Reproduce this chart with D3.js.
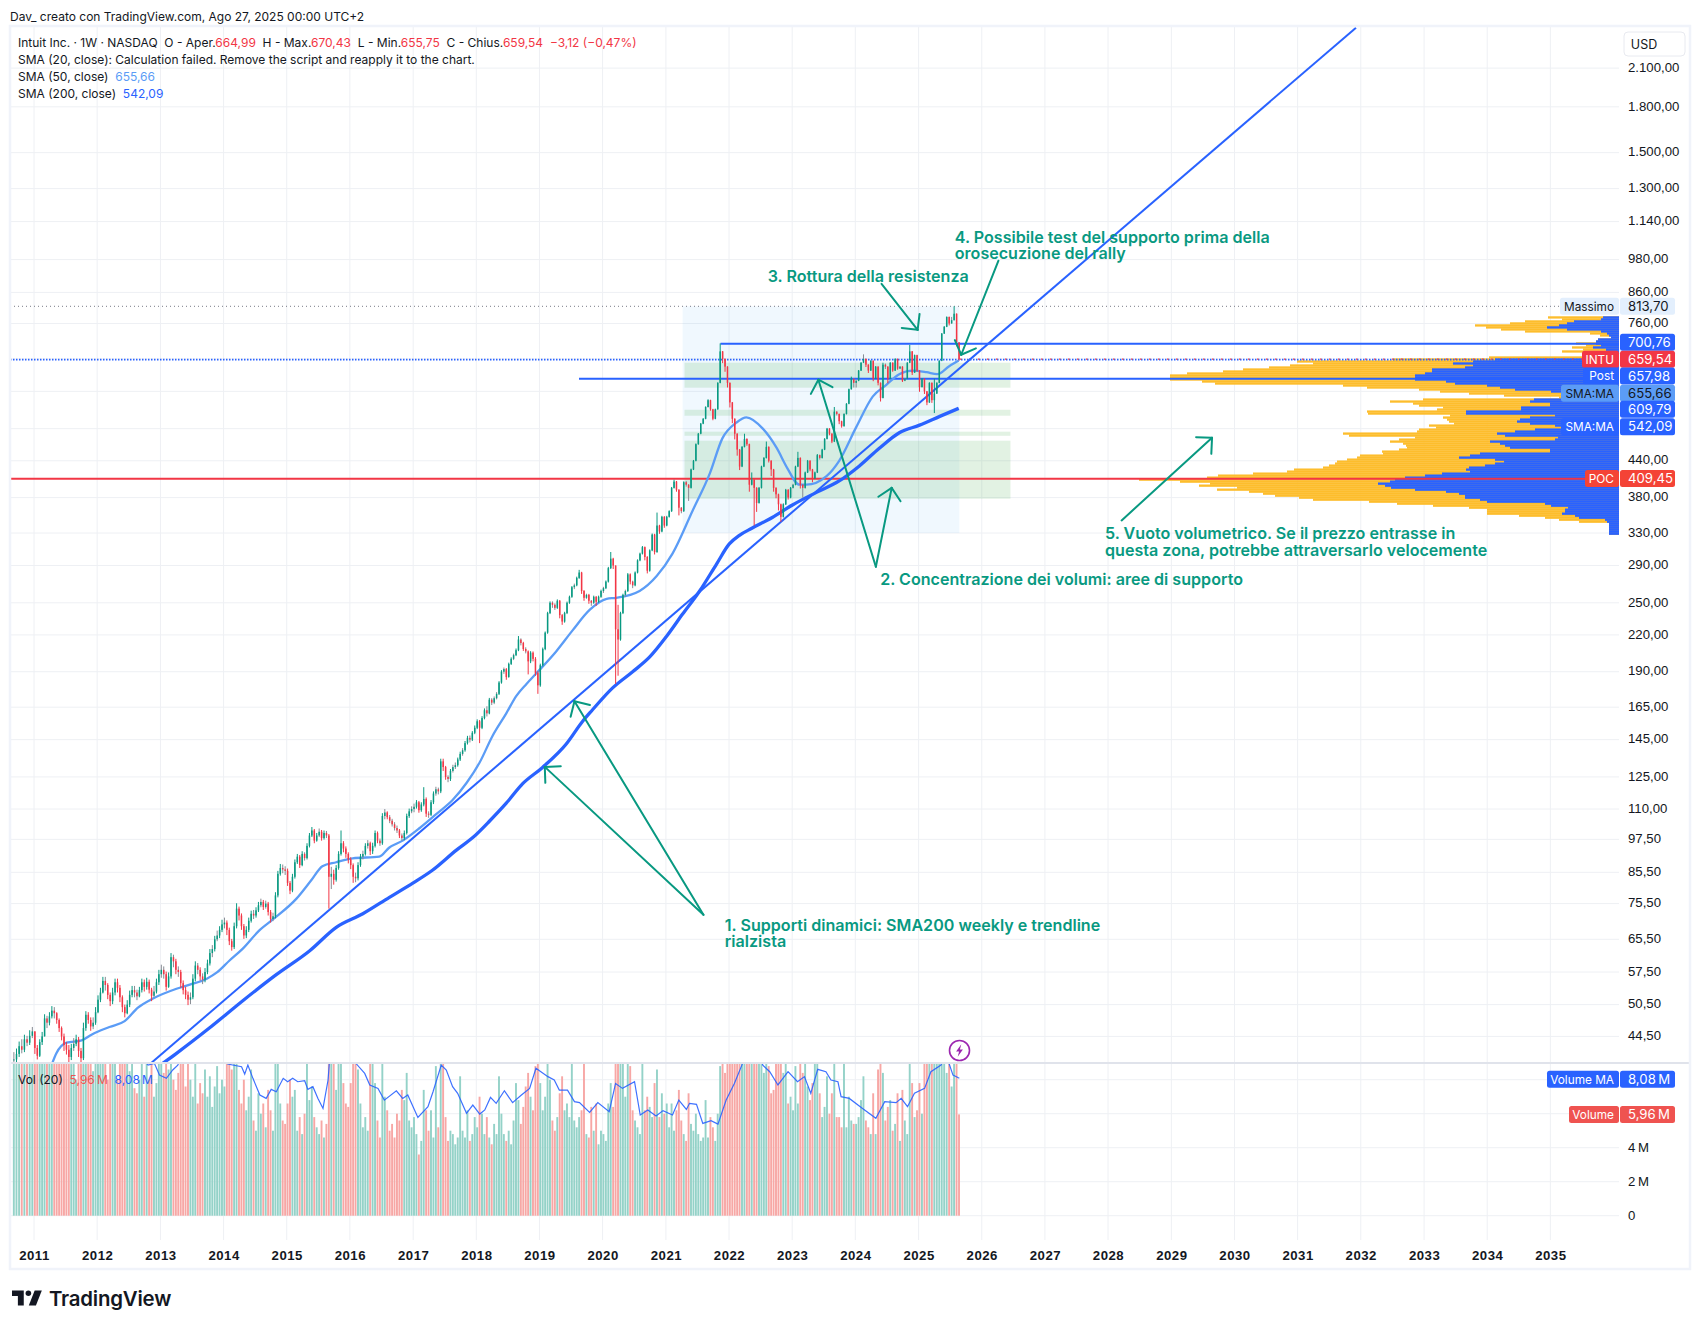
<!DOCTYPE html>
<html lang="it">
<head>
<meta charset="utf-8">
<title>Intuit Inc. 1W</title>
<script src="https://cdn.jsdelivr.net/npm/d3@7"></script>
<style>
  html, body { margin: 0; padding: 0; background: #fff; }
  svg { display: block; font-family: Inter, "Noto Sans", sans-serif; }
  text { fill: #131722; }
  .tick text { font-size: 13.2px; fill: #131722; }
  .time .tick text { font-weight: 600; letter-spacing: .5px; }
  .domain { display: none; }
</style>
</head>
<body>
<svg id="chart" width="1701" height="1329"></svg>
<script>
// Two-week candles per calendar year: [close, high, low, volume in millions]
const y2010 = [[40.6,41.8,39.2,12],[41.5,42.4,40.1,14],[42.8,43.6,41,11],[42.2,44,41.6,13],[44,44.8,41.8,15],[43.4,44.6,42.8,10],[44.6,45.6,43,12],[45.4,46.2,44.2,13]];
const y2011 = [[42.5,45,41.5,13],[41.2,43,40.6,15],[43.5,44,41,12],[44.5,45.3,43,11],[47.8,48.6,44.5,16],[47,48.3,46,9.5],[48.2,49,46.5,12],[49.3,50.2,47.8,10],[48.8,50,47.8,9.4],[47.5,49,46.8,11],[46,47.8,45.3,13],[44.5,46.3,43.8,14],[43,45,42,16],[42.2,43.5,41.4,12],[41,43,39.8,18],[42.5,43.2,40.5,10],[43.2,44.2,42,9],[44,44.8,42.8,8],[42,44.4,41,10.5],[40.8,42.5,39.6,15],[46,47,40.5,17],[48.5,49.2,45.5,12],[47.5,49,46.8,10],[46.3,48,45.5,9],[47,48,45.8,8.5],[49,50,46.6,11]];
const y2012 = [[51.5,52.4,48.8,12],[53,54,51,11],[55.5,56.4,52.8,13],[54.6,56.4,53.4,9.5],[52.5,55,51.6,8],[51.2,53,50.2,10],[53,54,50.6,9],[55.2,56,52.4,12],[54,56,53,8],[52,54.6,51,10],[50,52.4,49,14],[48.8,50.5,48,12],[50.5,51.4,48.6,9],[52.5,53.4,50,8.5],[53.5,54.4,52,9],[53,54.4,52,7.5],[52.2,53.6,51.4,7.2],[53.5,54.2,52,8],[55.2,56,53,9.6],[54.2,55.8,53.2,7],[55.3,56.2,53.6,11],[53.6,55.8,52.8,8],[52.3,54,51.2,9.4],[53.2,54.4,52,7],[55.2,56,52.8,7.8],[57,58,54.6,10]];
const y2013 = [[58,59.2,56.2,9.5],[57,58.8,56,8.4],[54.2,57.6,53.4,9.2],[56.5,57.4,54,8.6],[61,62,56,13],[60,61.6,58.6,8],[58,60.6,57,7.4],[57.5,58.8,56.4,8.4],[55,58,54,10.5],[53.5,55.6,52.6,9],[52.5,54.2,51.6,7.6],[51.5,53.2,50.4,11],[52,53,50.6,8],[56,57,51.6,7],[59,60,55.4,10],[58,59.6,57,6.6],[56.5,58.6,55.6,7.8],[55.8,57.2,54.8,7.2],[57.5,58.4,55.2,8.6],[59.5,60.4,57,7],[62,63,59,8.2],[63,64,61,6.4],[65.5,66.4,62.4,7.6],[66.5,67.8,65,8.8],[68,69,65.8,7.2],[69.5,70.8,67.4,8]];
const y2014 = [[70,71.4,68.4,7.6],[68,70.6,66.6,10.5],[65,68.6,64,9.4],[63.5,65.6,62.6,8.6],[69,70,63,11],[74,75.6,68.4,12],[72,74.6,70.6,7.4],[69,72.6,68,6.6],[66.5,69.6,65.6,8],[68,69,65.8,6.2],[70.5,71.4,67.4,7],[72.5,73.4,70,8.6],[72,73.6,71,5.6],[73.5,74.4,71.4,5],[75,76,73,7.2],[76,77,74.4,6],[74.5,76.6,73.6,6.6],[75.5,76.4,74,5.2],[73,76,72,7.4],[71,73.6,70,6.2],[71.8,72.8,70.4,5],[78,79,71.2,10.5],[85,86,77.4,9],[87,88.4,84.4,6.6],[86.5,88.2,85.2,5.6],[86,87.6,84.6,5.4]];
const y2015 = [[82,86.8,81,6.6],[79.5,82.6,78.4,8],[84,85,79,7],[89,90,83.4,7.4],[91,92,88.4,5],[88,91.6,87,5.8],[92,93,87.6,4.8],[90.5,92.6,89.6,6],[95,96,90,11],[99,100,94.4,6.8],[101,102.4,98.4,7.6],[97,101.6,96,5.8],[99,100,96.6,5.2],[100.5,101.8,98.4,4.8],[98,101.2,97,5.6],[100,101,97.4,4.6],[99,100.8,98,5.4],[84,99.6,74,13],[85,87.4,80,11],[83,86.4,81.4,9],[87,88,82.4,7.4],[92,93,86.4,10.5],[96,101,91.4,11],[94,96.8,92.6,7.8],[92,94.8,90.6,6.6],[90,92.6,88.6,6.4]];
const y2016 = [[88,90.8,86.6,7.8],[84,88.6,82,10],[83.5,85.4,82.2,9.6],[88,89,82.8,8.6],[91,92,87.4,6.6],[92,93.2,90,5.2],[95,96,91.4,5.8],[96,97.2,94,5],[93,96.6,91.6,11],[95,96.2,92,12],[100,101,94.4,7.8],[97,100.6,96,5.6],[96,97.8,95,4.6],[107,108.2,95.4,11],[108.5,110,105.6,7],[106.5,109,105.6,6.2],[105,107.4,104,5],[103.5,105.8,102.6,5.4],[102,104.4,101,4.6],[101,103,100,6],[99,101.6,98,5.6],[98,99.8,97,7.4],[100,101,97.2,6.8],[107,108,99.4,8.4],[109,110.2,106.2,5.6],[110,111.2,108.2,5.2]];
const y2017 = [[111,112.4,108.6,5.8],[113,114,110.2,4.8],[109.5,113.6,108.4,3.6],[112,113,108.8,4.4],[114.5,120,111.2,7.4],[108,115.2,106.6,6.2],[107.5,109,106.2,5],[113,114,107,6.2],[117,118,112.2,4.6],[119,120.2,116,8.8],[118,119.8,116.6,5.2],[133,134.4,117.2,13],[130,134.4,128,11],[125,130.6,123.6,5.8],[124,125.8,122.4,4.4],[128,129,123,5],[130,131.2,127.2,4.8],[131,132.4,129,4.2],[134,135,130.2,4.6],[137,138.2,133.2,8.2],[139,140.2,136,5],[143,144.2,138.2,4.6],[146,147.2,142.2,6.2],[145,147.4,143.4,4.4],[149,150,144.2,4.8],[152,153.4,148.2,5.8]];
const y2018 = [[156,157.2,151.2,5.2],[152,156.8,143,7],[158,159.2,151.2,6],[163,164.2,157.2,4.8],[161,165.6,159,5.8],[170,171.2,160.4,4.6],[168,171,166.4,4.2],[171,172.2,167,5.4],[174,175.2,170.2,4.8],[182,183,173.2,8.2],[190,191.2,181.2,6],[192,193.2,188.4,4.8],[186,192.8,184,4.4],[196,197,185.6,5],[200,201.2,195.2,4.2],[203,204.2,199,5.6],[207,208.4,202.2,7.8],[216,219,206.2,6.8],[213,217,211,5.4],[208,214,206.4,6.4],[206,209.4,204.4,7.6],[198,206.8,188,8.4],[205,206.2,196.6,7],[200,206,198,6.2],[189,201.4,187,8.8],[180,190.4,174,9.4]];
const y2019 = [[195,196.2,179,7.8],[208,209.2,194,6.2],[222,223,207,7],[240,241.2,221,11],[250,251.4,239,8],[248,251.4,245,5.6],[245,249.4,243,5],[252,253.4,244,5.8],[238,252.8,235,7.2],[232,239,229,8.2],[240,241.2,231,6.2],[250,251.2,239,6.6],[256,257.2,249,5.8],[266,267.2,255,11],[268,269.8,264,5.6],[276,277.4,267,5.2],[282,285,275,5.8],[262,282.8,259,6.2],[255,263,252,10.5],[258,259.2,254,4.8],[252,259,249,4.6],[250,252.8,247,6.4],[256,257.2,249,5],[251,256.8,247,6.6],[256,257.2,250,4.2],[262,263.4,255,5]];
const y2020 = [[265,266.4,260,4.8],[272,273.2,264,4.4],[287,288.4,271,6.6],[298,306,286,7.8],[290,299,286,6.4],[225,290,181,17],[216,248,187,15],[240,241.2,215,12],[258,259.2,239,9.2],[262,263.4,256,7],[280,281.4,261,10.5],[272,281,269,8.8],[268,273,265,6.2],[282,283.2,267,5.6],[296,297.2,281,5.2],[304,305.2,295,4.8],[312,313.4,303,9],[300,312.8,296,6.2],[284,301,281,7],[308,309.2,283,6.4],[328,329.4,307,5.8],[306,329,303,7.8],[340,358,305,8.6],[332,341,329,5.8],[352,353.4,331,7.2],[340,353,337,6]];
const y2021 = [[352,353.4,339,6.6],[360,361.2,351,5.2],[395,396.4,359,6.6],[405,408,394,5],[392,406,389,6.2],[365,393,354,7.4],[360,366,357,5.6],[404,405.4,359,4.8],[400,406,397,4.4],[395,401,375,7.2],[425,426.4,394,5.4],[440,441.4,424,5],[470,471.4,439,6],[490,491.4,469,4.8],[510,511.4,489,4.4],[520,521.4,509,4.6],[545,546.4,519,6.8],[560,562,544,4.6],[540,561,537,5.8],[520,541,517,5.2],[540,541.4,519,4.4],[600,601.4,539,6],[680,702,599,8.8],[660,681,649,9.4],[640,661,627,8.4],[600,641,589,9.2]];
const y2022 = [[555,601,544,12],[520,556,511,13],[490,521,479,16],[460,491,449,15],[430,461,424,17],[465,466.4,429,11],[480,490,464,11],[470,481,467,10.5],[400,471,389,16],[408,420,399,14],[395,409,340,13],[372,396,359,12],[395,396.4,371,11],[430,431.4,394,9.4],[445,446.4,429,8.4],[465,475,444,10.5],[440,466,437,8.8],[425,441,414,7.2],[395,426,389,7.4],[385,396,379,9],[370,386,361,11],[352,371,345,10],[370,371.4,351,8.4],[392,393.4,369,9.2],[380,393,377,6.6],[395,396.4,379,7]];
const y2023 = [[400,401.4,394,6.2],[430,431.4,399,8.8],[445,456,429,6.6],[400,446,394,9.2],[395,401,380,8.4],[420,421.4,394,10],[440,441.4,419,7.6],[425,441,422,6.8],[410,426,404,7.8],[420,421.4,409,9.4],[450,452,419,11],[445,451,442,7.2],[460,461.4,444,5.8],[480,481.4,459,6.4],[500,501.4,479,8.2],[490,501,487,6],[475,491,472,7.2],[535,545,474,9.4],[530,536,527,5.8],[515,531,509,5.8],[505,516,502,5.2],[530,531.4,504,9.2],[552,553.4,529,5.2],[585,586.4,551,7],[610,615,584,5.6],[600,611,589,5.4]];
const y2024 = [[605,606.4,589,5.4],[630,631.4,604,5.8],[650,651.4,629,6.8],[660,672,649,8.2],[645,661,639,5.6],[630,646,624,5.2],[655,656.4,629,4.8],[610,656,604,7.2],[640,641.4,609,4.8],[600,641,594,8.6],[565,601,557,11],[645,650,564,8.4],[640,648,634,5.6],[610,641,599,6.4],[650,651.4,609,6.8],[630,651,627,5],[660,661.4,629,5.4],[635,661,632,7.2],[640,641.4,634,4.4],[605,641,602,7.4],[610,611.4,604,5.6],[650,651.4,609,4.8],[680,698,649,9.4],[625,681,619,7.8],[670,671.4,624,5.8],[630,671,627,6.2]];
const y2025 = [[590,631,579,7.8],[610,611.4,589,6],[580,611,574,9],[555,581,549,11],[600,601.4,554,12],[560,601,554,9.4],[575,610,532,13],[600,601.4,574,10],[655,656.4,599,11],[730,731.4,654,13],[750,752,729,9.8],[780,781.4,749,8.4],[760,781,754,11],[770,780,759,7.6],[790,813.7,769,12],[705,791,694,13],[659.54,705,655.75,5.96]];

// Moving averages and volume average as [decimal year, value]
const sma50 = [[2011.28,39.6],[2011.36,41.6],[2011.52,43.4],[2011.76,43.8],[2011.93,44.9],[2012.2,46.2],[2012.44,47.3],[2012.65,49.9],[2012.88,51.7],[2013.26,53.8],[2013.47,54.7],[2013.74,56],[2013.9,57.4],[2014.1,60.2],[2014.31,63.1],[2014.58,68],[2014.78,70.8],[2015.16,77],[2015.4,83],[2015.57,87.6],[2015.79,89],[2016.05,90.4],[2016.47,91],[2016.63,94.4],[2016.84,97],[2017.11,102],[2017.38,108],[2017.63,114],[2017.85,122],[2018.06,132.5],[2018.26,147],[2018.48,161],[2018.64,172.6],[2018.8,181],[2018.96,189],[2019.27,206],[2019.53,224],[2019.8,243],[2020.07,254],[2020.22,255],[2020.59,262],[2020.86,278],[2021.11,304],[2021.43,361],[2021.7,418],[2021.9,481],[2022.12,512],[2022.28,523],[2022.54,500],[2022.76,463],[2022.93,427],[2023.12,400],[2023.23,400],[2023.55,414],[2023.75,440],[2024.02,503],[2024.28,568],[2024.5,596],[2024.7,621],[2024.91,630],[2025.13,626],[2025.3,621],[2025.49,641],[2025.64,655.66]];
const sma200 = [[2012.99,39.6],[2013.26,41.6],[2013.78,46],[2014.31,51.3],[2014.84,56.9],[2015.37,62.6],[2015.79,68.7],[2016.21,72.5],[2016.63,77.4],[2017,81.9],[2017.31,86.2],[2017.69,93.4],[2017.95,98.2],[2018.22,105],[2018.48,112.6],[2018.74,121.7],[2019.05,129.7],[2019.43,142.5],[2019.69,156],[2019.84,163],[2020.16,178],[2020.48,190],[2020.75,201.5],[2021.02,219],[2021.27,239],[2021.54,262],[2021.81,292],[2022.01,316],[2022.17,327],[2022.36,336],[2022.69,351],[2023.01,369],[2023.39,388],[2023.75,406],[2024.07,431],[2024.38,462],[2024.7,492],[2025.02,507],[2025.34,525],[2025.64,542.09]];
const volMa = [[2012.7,9.4],[2012.81,8.86],[2012.91,8.96],[2012.99,8.27],[2013.1,8.08],[2013.2,8.57],[2013.28,8.86],[2013.34,9.35],[2014,9.5],[2014.07,8.92],[2014.29,8.76],[2014.34,8.33],[2014.39,8.86],[2014.47,8.08],[2014.58,7.1],[2014.68,6.9],[2014.76,7.43],[2014.84,7.29],[2014.95,8.08],[2015.02,7.88],[2015.1,8.08],[2015.18,7.88],[2015.29,7.94],[2015.34,7.43],[2015.42,7.59],[2015.5,6.9],[2015.58,6.31],[2015.66,7.98],[2015.68,8.96],[2015.71,9.55],[2016.05,9.55],[2016.11,8.92],[2016.24,8.37],[2016.32,7.69],[2016.45,7.49],[2016.55,6.8],[2016.74,7.35],[2016.84,6.9],[2016.92,7.1],[2017.08,5.78],[2017.24,6.41],[2017.32,7.29],[2017.45,8.86],[2017.53,8.57],[2017.63,7.59],[2017.71,7.2],[2017.85,6.02],[2017.95,6.51],[2018.06,5.98],[2018.14,6.22],[2018.23,6.96],[2018.32,6.61],[2018.45,7.35],[2018.58,6.65],[2018.72,7.1],[2018.85,7.49],[2018.95,8.67],[2019.14,8.18],[2019.24,7.98],[2019.32,7.39],[2019.45,7.39],[2019.56,6.71],[2019.64,6.65],[2019.8,6.08],[2019.93,6.65],[2020.11,6.12],[2020.21,7.78],[2020.32,7.49],[2020.51,7.88],[2020.6,5.92],[2020.72,6.22],[2020.85,5.86],[2020.96,6.18],[2021.11,5.92],[2021.21,6.8],[2021.33,6.25],[2021.38,6.61],[2021.49,6.55],[2021.59,5.43],[2021.72,5.59],[2021.83,5.39],[2021.96,6.8],[2022.09,7.78],[2022.22,8.96],[2022.25,9.35],[2022.51,9.35],[2022.54,8.86],[2022.65,8.47],[2022.78,7.69],[2022.94,8.47],[2023.09,7.88],[2023.2,8.18],[2023.3,7.2],[2023.41,8.61],[2023.54,8.47],[2023.62,7.98],[2023.73,7.88],[2023.78,7],[2023.91,6.9],[2024.12,6.31],[2024.33,5.73],[2024.47,6.71],[2024.65,6.65],[2024.73,6.9],[2024.83,6.41],[2024.94,7.2],[2025.1,7.49],[2025.2,8.47],[2025.36,8.86],[2025.4,9.25],[2025.46,9.25],[2025.55,8.27],[2025.65,8.08]];

// Volume profile rows, top to bottom: whole row and the up-volume part
const vpTotal = [71,57,94,109,144,133,118,94,29,19,8,21,23,43,33,47,36,57,26,14,130,226,322,306,329,350,376,396,432,449,449,449,417,404,276,252,200,179,150,115,60,196,229,206,200,176,182,252,251,169,176,172,170,165,190,183,200,202,276,270,204,220,229,216,213,212,220,237,236,259,262,272,282,284,290,296,325,332,366,401,412,480,439,409,420,382,402,370,356,344,320,306,250,222,186,150,132,132,132,100,74,60,40,10,10,10,10,10,10];
const vpUp = [16,18,45,52,60,72,52,18,12,10,8,21,23,23,18,26,13,13,10,10,32,124,146,166,146,154,187,187,194,204,204,204,173,164,132,119,104,68,54,57,44,85,89,69,69,98,98,153,153,64,89,99,102,89,64,57,84,104,122,114,61,64,129,119,114,109,69,69,139,149,160,124,115,124,134,150,153,149,177,194,214,224,229,241,234,228,204,173,160,154,154,139,132,74,68,51,54,54,57,44,40,14,12,10,10,10,10,10,10];
const vpTopPrice = 782, vpBottomPrice = 328;

// Price and time axis values
const priceGrid = [2100,1800,1500,1300,1140,980,860,760,660,580,500,440,380,330,290,250,220,190,165,145,125,110,97.5,85.5,75.5,65.5,57.5,50.5,44.5];
const priceLabelled = [2100,1800,1500,1300,1140,980,860,760,440,380,330,290,250,220,190,165,145,125,110,97.5,85.5,75.5,65.5,57.5,50.5,44.5];
const volumeTicks = [0,2,4,6,8];
const volumeLabelled = [0,2,4];
const yearTicks = d3.range(2011, 2036);

// Drawn levels and zones
const resistance = 700.76, support = 609.79, pointOfControl = 409.45;
const lastPrice = 659.54, postPrice = 657.98, allTimeHigh = 813.7;
const lastVolume = 5.96, lastVolumeMa = 8.08;
const sma50Last = 655.66, sma200Last = 542.09;
const trendline = [[2012.81,39.6],[2031.93,2467]];
const rangeBox = { from: 2021.27, to: 2025.65, high: 813.7, low: 330 };
const valueZones = [[650,588.5],[539,526.4],[494,486],[476.6,378.3]];
const valueZoneSpan = [2021.3, 2026.46];

// Notes and their arrows, placed on the price/time grid
const arrows = [
  [[2021.6,72.2],[2019.09,130.1]],
  [[2021.6,72.2],[2019.56,169]],
  [[2024.33,288.5],[2023.42,607.5]],
  [[2024.33,288.5],[2024.58,395]],
  [[2024.42,890],[2024.99,741]],
  [[2026.27,975.7],[2025.68,671]],
  [[2028.22,347],[2029.65,482]]
];
const notes = [
  { at:[2021.93,69.4], lines:["1. Supporti dinamici: SMA200 weekly e trendline","rialzista"] },
  { at:[2024.39,275], lines:["2. Concentrazione dei volumi: aree di supporto"] },
  { at:[2022.61,917], lines:["3. Rottura della resistenza"] },
  { at:[2025.57,1071], lines:["4. Possibile test del supporto prima della","orosecuzione del rally"] },
  { at:[2027.95,329.5], lines:["5. Vuoto volumetrico. Se il prezzo entrasse in","questa zona, potrebbe attraversarlo velocemente"] }
];

const C = { up:"#089981", down:"#f23645", neutral:"#868b93", volUp:"#94d2c8", volDown:"#f7a7a5",
            blue:"#2962ff", sma50:"#5b9cf6", amber:"#fdbd2c", teal:"#089981", grid:"#eef0f4", frame:"#f0f3fa" };

const L = { left:10, right:1619, edge:1690, top:26, bottom:1269, paneEnd:1063, volBase:1215.7, gridEnd:1240 };

const svg = d3.select("#chart");
const it = d3.formatLocale({ decimal:",", thousands:".", grouping:[3], currency:["","€"] });
const fmt2 = it.format(",.2f");

const yearDate = y => { const f = Math.floor(y); const a = Date.UTC(f,0,1), b = Date.UTC(f+1,0,1); return new Date(a + (y-f)*(b-a)); };

const x = d3.scaleUtc().domain([new Date(Date.UTC(2011,0,3)), new Date(Date.UTC(2035,0,1))]).range([34,1550]);
const y = d3.scaleLog().domain([860,44.5]).range([292.4,1036.4]);
const v = d3.scaleLinear().domain([0,1]).range([L.volBase, L.volBase-17]);

// Candles are spread evenly across the stretch of calendar each yearly list covers
const spans = [
  [y2010, Date.UTC(2010,8,1), Date.UTC(2011,0,1)], [y2011, Date.UTC(2011,0,1), Date.UTC(2012,0,1)],
  [y2012, Date.UTC(2012,0,1), Date.UTC(2013,0,1)], [y2013, Date.UTC(2013,0,1), Date.UTC(2014,0,1)],
  [y2014, Date.UTC(2014,0,1), Date.UTC(2015,0,1)], [y2015, Date.UTC(2015,0,1), Date.UTC(2016,0,1)],
  [y2016, Date.UTC(2016,0,1), Date.UTC(2017,0,1)], [y2017, Date.UTC(2017,0,1), Date.UTC(2018,0,1)],
  [y2018, Date.UTC(2018,0,1), Date.UTC(2019,0,1)], [y2019, Date.UTC(2019,0,1), Date.UTC(2020,0,1)],
  [y2020, Date.UTC(2020,0,1), Date.UTC(2021,0,1)], [y2021, Date.UTC(2021,0,1), Date.UTC(2022,0,1)],
  [y2022, Date.UTC(2022,0,1), Date.UTC(2023,0,1)], [y2023, Date.UTC(2023,0,1), Date.UTC(2024,0,1)],
  [y2024, Date.UTC(2024,0,1), Date.UTC(2025,0,1)], [y2025, Date.UTC(2025,0,1), Date.UTC(2025,8,1)]
];
const candles = [];
spans.forEach(([rows,a,b]) => rows.forEach((r,i) => {
  const prev = candles.length ? candles[candles.length-1].c : r[0];
  candles.push({ t:new Date(a+(i+.5)/rows.length*(b-a)), o:prev, c:r[0], h:Math.max(r[1],r[0],prev), l:Math.min(r[2],r[0],prev), vol:r[3] });
}));

const defs = svg.append("defs");
defs.append("clipPath").attr("id","price").append("rect").attr("x",L.left).attr("y",L.top).attr("width",L.right-L.left).attr("height",L.paneEnd-L.top);
defs.append("clipPath").attr("id","vol").append("rect").attr("x",L.left).attr("y",L.paneEnd).attr("width",L.right-L.left).attr("height",L.volBase-L.paneEnd+1);

// Grid
const grid = svg.append("g").attr("stroke",C.grid).attr("stroke-width",1);
grid.selectAll(".gx").data(yearTicks).join("line").attr("class","gx")
  .attr("x1",d=>x(new Date(Date.UTC(d,0,3)))).attr("x2",d=>x(new Date(Date.UTC(d,0,3)))).attr("y1",L.top).attr("y2",L.gridEnd);
grid.selectAll(".gy").data(priceGrid).join("line").attr("class","gy")
  .attr("x1",L.left).attr("x2",L.right).attr("y1",d=>y(d)).attr("y2",d=>y(d));
grid.selectAll(".gv").data(volumeTicks).join("line").attr("class","gv")
  .attr("x1",L.left).attr("x2",L.right).attr("y1",d=>v(d)).attr("y2",d=>v(d));

const price = svg.append("g").attr("clip-path","url(#price)");

// Range box and value-area zones
price.append("rect").attr("x",x(yearDate(rangeBox.from))).attr("y",y(rangeBox.high))
  .attr("width",x(yearDate(rangeBox.to))-x(yearDate(rangeBox.from))).attr("height",y(rangeBox.low)-y(rangeBox.high))
  .attr("fill","rgba(33,150,243,.065)");
price.selectAll(".zone").data(valueZones).join("rect").attr("class","zone")
  .attr("x",x(yearDate(valueZoneSpan[0]))).attr("width",x(yearDate(valueZoneSpan[1]))-x(yearDate(valueZoneSpan[0])))
  .attr("y",d=>y(d[0])).attr("height",d=>y(d[1])-y(d[0])).attr("fill","rgba(76,175,80,.16)");

// Volume profile, hanging from the price scale
const vpW = d3.scaleLinear().domain([0,d3.max(vpTotal)]).range([0,480]);
const rowEdge = i => vpTopPrice*Math.pow(vpBottomPrice/vpTopPrice, i/vpTotal.length);
const vp = price.append("g");
vp.selectAll(".t").data(vpTotal).join("rect").attr("class","t")
  .attr("x",d=>L.right-vpW(d)).attr("width",d=>vpW(d))
  .attr("y",(d,i)=>y(rowEdge(i))).attr("height",(d,i)=>y(rowEdge(i+1))-y(rowEdge(i))+.3).attr("fill",C.amber);
vp.selectAll(".u").data(vpUp).join("rect").attr("class","u")
  .attr("x",d=>L.right-vpW(d)).attr("width",d=>vpW(d))
  .attr("y",(d,i)=>y(rowEdge(i))).attr("height",(d,i)=>y(rowEdge(i+1))-y(rowEdge(i))+.3).attr("fill",C.blue);

// Dotted session lines
const hline = (p,col,w,dash,off,x0,x1) => price.append("line").attr("x1",x0||L.left).attr("x2",x1||L.right)
  .attr("y1",y(p)).attr("y2",y(p)).attr("stroke",col).attr("stroke-width",w).attr("stroke-dasharray",dash||null).attr("stroke-dashoffset",off||0);
hline(allTimeHigh,"#787b86",1,"1 3",0,L.left,1560);
hline(postPrice,C.blue,1.6,"1.5 1.5",0);
hline(lastPrice,C.down,1.2,"1.5 7.5",0,960);

// Horizontal levels
hline(pointOfControl,C.down,2);
hline(resistance,C.blue,2,null,0,x(yearDate(2021.87)));
hline(support,C.blue,2,null,0,579);

// Moving averages and trendline
const seriesLine = d3.line().x(d=>x(yearDate(d[0]))).y(d=>y(d[1])).curve(d3.curveMonotoneX);
price.append("path").datum(sma200).attr("d",seriesLine).attr("fill","none").attr("stroke",C.blue).attr("stroke-width",3.3);
price.append("path").datum(sma50).attr("d",seriesLine).attr("fill","none").attr("stroke",C.sma50).attr("stroke-width",2.3);
price.append("path").datum(trendline).attr("d",d3.line().x(d=>x(yearDate(d[0]))).y(d=>y(d[1]))).attr("fill","none").attr("stroke",C.blue).attr("stroke-width",2);

// Candles
const col = d => Math.abs(d.c-d.o)/d.o < .018 ? C.neutral : (d.c>=d.o ? C.up : C.down);
const cg = price.append("g");
cg.selectAll(".w").data(candles).join("line").attr("class","w")
  .attr("x1",d=>x(d.t)).attr("x2",d=>x(d.t)).attr("y1",d=>y(d.h)).attr("y2",d=>y(d.l))
  .attr("stroke",col).attr("stroke-width",1);
cg.selectAll(".b").data(candles).join("rect").attr("class","b")
  .attr("x",d=>x(d.t)-.75).attr("width",1.5)
  .attr("y",d=>y(Math.max(d.o,d.c))).attr("height",d=>Math.max(1,Math.abs(y(d.o)-y(d.c))))
  .attr("fill",d=>d.c>=d.o?C.up:C.down);

// Notes and arrows
const notesG = price.append("g");
const arrowHead = 16;
arrows.forEach(([s,e]) => {
  const sx=x(yearDate(s[0])), sy=y(s[1]), ex=x(yearDate(e[0])), ey=y(e[1]);
  const a=Math.atan2(sy-ey,sx-ex);
  const g=notesG.append("g").attr("fill","none").attr("stroke",C.teal).attr("stroke-width",2).attr("stroke-linecap","round");
  g.append("line").attr("x1",sx).attr("y1",sy).attr("x2",ex).attr("y2",ey);
  [-Math.PI/4,Math.PI/4].forEach(t => g.append("line").attr("x1",ex).attr("y1",ey)
    .attr("x2",ex+arrowHead*Math.cos(a+t)).attr("y2",ey+arrowHead*Math.sin(a+t)));
});
notes.forEach(n => n.lines.forEach((s,i) => notesG.append("text")
  .attr("x",x(yearDate(n.at[0]))+.5).attr("y",y(n.at[1])+i*16.3).attr("dy",".36em")
  .style("fill",C.teal).style("font-size","16.1px").style("font-weight",600).text(s)));

// Volume pane
const volG = svg.append("g").attr("clip-path","url(#vol)");
volG.selectAll("rect").data(candles).join("rect")
  .attr("x",d=>x(d.t)-1).attr("width",1.9)
  .attr("y",d=>v(d.vol)).attr("height",d=>L.volBase-v(d.vol))
  .attr("fill",d=>d.c>=d.o?C.volUp:C.volDown);
volG.append("path").datum(volMa).attr("fill","none").attr("stroke",C.blue).attr("stroke-width",1.2).attr("opacity",.9)
  .attr("d",d3.line().x(d=>x(yearDate(d[0]))).y(d=>v(d[1])));

svg.append("line").attr("x1",L.left).attr("x2",L.edge).attr("y1",L.paneEnd).attr("y2",L.paneEnd).attr("stroke","#e0e3eb").attr("stroke-width",2);

// Frame
svg.append("rect").attr("x",L.left).attr("y",L.top).attr("width",L.edge-L.left).attr("height",L.bottom-L.top)
  .attr("fill","none").attr("stroke",C.frame).attr("stroke-width",2.5);

// Axes
svg.append("g").attr("class","time").attr("transform",`translate(0,${L.gridEnd+2})`)
  .call(d3.axisBottom(x).tickValues(yearTicks.map(d=>new Date(Date.UTC(d,0,3)))).tickFormat(d3.utcFormat("%Y")).tickSize(0).tickPadding(9));
svg.append("g").attr("class","price").attr("transform",`translate(${L.right},-1)`)
  .call(d3.axisRight(y).tickValues(priceLabelled).tickFormat(fmt2).tickSize(0).tickPadding(9));
svg.append("g").attr("class","volume").attr("transform",`translate(${L.right},-.7)`)
  .call(d3.axisRight(v).tickValues(volumeLabelled).tickFormat(d=>d===0?"0":d+"\u202fM").tickSize(0).tickPadding(9));

// Axis price tags
const tag = (cy, value, label, bg, fg, labelW) => {
  const g = svg.append("g");
  g.append("rect").attr("x",L.right+1).attr("y",cy-8.5).attr("width",55).attr("height",17).attr("rx",2.5).attr("fill",bg);
  g.append("text").attr("x",L.right+9).attr("y",cy).attr("dy",".36em").style("font-size","13.2px").style("fill",fg).text(value);
  if (label) {
    g.append("rect").attr("x",L.right-labelW).attr("y",cy-8.5).attr("width",labelW).attr("height",17).attr("rx",2.5).attr("fill",bg);
    g.append("text").attr("x",L.right-5).attr("y",cy).attr("dy",".36em").attr("text-anchor","end").style("font-size","11.8px").style("fill",fg).text(label);
  }
};
tag(y(allTimeHigh), fmt2(allTimeHigh), "Massimo", "#e3effd", "#131722", 59);
tag(y(resistance)-1.5, fmt2(resistance), null, C.blue, "#fff");
tag(359.3, fmt2(lastPrice), "INTU", C.down, "#fff", 37);
tag(376, fmt2(postPrice), "Post", C.blue, "#fff", 36);
tag(393.3, fmt2(sma50Last), "SMA:MA", C.sma50, "#131722", 58);
tag(409.3, fmt2(support), null, C.blue, "#fff");
tag(426.7, fmt2(sma200Last), "SMA:MA", C.blue, "#fff", 58);
tag(y(pointOfControl)-.3, fmt2(pointOfControl), "POC", "#f44336", "#fff", 34);
const fmtM = d => it.format(".2f")(d)+"\u202fM";
tag(v(lastVolumeMa)+1, fmtM(lastVolumeMa), "Volume MA", C.blue, "#fff", 72);
tag(v(lastVolume), fmtM(lastVolume), "Volume", "#ef5350", "#fff", 50);

// USD selector
svg.append("rect").attr("x",1624).attr("y",32).attr("width",61).attr("height",24).attr("rx",4).attr("fill","#fff").attr("stroke","#e8eaf0");
svg.append("text").attr("x",1644).attr("y",44).attr("dy",".36em").attr("text-anchor","middle").style("font-size","12.5px").text("USD");

// Headers and legends
const text = (tx,ty,size,parts) => { const t = svg.append("text").attr("x",tx).attr("y",ty).attr("dy",".36em").style("font-size",size+"px");
  parts.forEach(([s,c]) => t.append("tspan").style("fill",c||"#131722").text(s)); };
text(10,16.7,12,[["Dav_ creato con TradingView.com, Ago 27, 2025 00:00 UTC+2"]]);
text(18,42.7,12,[["Intuit Inc. · 1W · NASDAQ\u00a0\u00a0O - Aper."],["664,99",C.down],["\u00a0\u00a0H - Max."],["670,43",C.down],["\u00a0\u00a0L - Min."],["655,75",C.down],["\u00a0\u00a0C - Chius."],["659,54",C.down],["\u00a0\u00a0−3,12 (−0,47%)",C.down]]);
text(18,59.5,12,[["SMA (20, close): Calculation failed. Remove the script and reapply it to the chart."]]);
text(18,76.7,12,[["SMA (50, close)\u00a0\u00a0"],["655,66",C.sma50]]);
text(18,94,12,[["SMA (200, close)\u00a0\u00a0"],["542,09",C.blue]]);
text(18,1080,12,[["Vol (20)\u00a0\u00a0"],["5,96\u202fM","#ef5350"],["\u00a0\u00a0"],["8,08\u202fM",C.blue]]);

// Alert badge at the last bar
const badge = svg.append("g").attr("transform","translate(959.5,1050.5)");
badge.append("circle").attr("r",10).attr("fill","#fff").attr("stroke","#9c27b0").attr("stroke-width",1.6);
badge.append("path").attr("d","M1.8,-6.2 L-3.4,1 L-0.4,1 L-1.8,6.2 L3.4,-1 L0.4,-1 Z").attr("fill","#9c27b0");

// Wordmark
const mark = svg.append("g").attr("transform","translate(12,1290.5) scale(.84)").attr("fill","#131722");
mark.append("path").attr("d","M14 0H0v6.5h7V18h7V0Z");
mark.append("circle").attr("cx",19.5).attr("cy",3.3).attr("r",3.3);
mark.append("path").attr("d","M27 0h8.5l-7 18h-8.5l7-18Z");
svg.append("text").attr("x",49).attr("y",1298.5).attr("dy",".36em").style("font-size","20.4px").style("font-weight",600).style("letter-spacing","-.2px").text("TradingView");
</script>
</body>
</html>
